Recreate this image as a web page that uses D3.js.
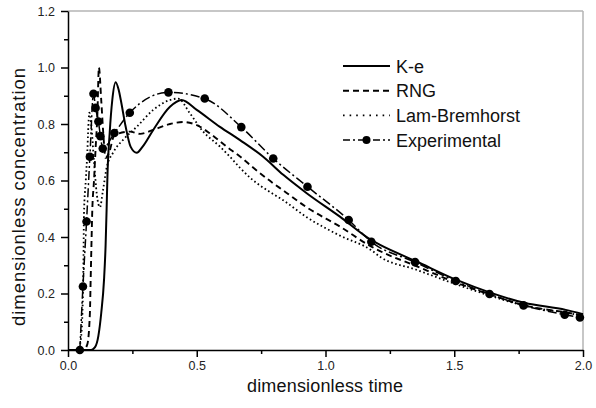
<!DOCTYPE html>
<html>
<head>
<meta charset="utf-8">
<script src="https://cdn.jsdelivr.net/npm/d3@7"></script>
<style>
  html, body { margin: 0; padding: 0; background: #fff; }
  svg { display: block; font-family: "Liberation Sans", Arial, sans-serif; }
</style>
</head>
<body>
<svg id="chart" width="596" height="408"></svg>
<script>
// Model predictions and measurements: dimensionless concentration vs dimensionless time
const keX  = [0, 0.09, 0.105, 0.118, 0.129, 0.140, 0.146, 0.150, 0.153, 0.162, 0.172, 0.185, 0.197, 0.205, 0.224, 0.243, 0.267, 0.290, 0.331, 0.396, 0.441, 0.50, 0.59, 0.668, 0.758, 0.836, 0.927, 1.056, 1.18, 1.212, 1.35, 1.509, 1.64, 1.772, 1.933, 2.0];
const keY  = [0, 0, 0.01, 0.05, 0.13, 0.25, 0.37, 0.50, 0.61, 0.77, 0.885, 0.948, 0.92, 0.885, 0.79, 0.72, 0.698, 0.72, 0.779, 0.861, 0.885, 0.85, 0.79, 0.743, 0.684, 0.62, 0.555, 0.472, 0.388, 0.372, 0.315, 0.248, 0.203, 0.167, 0.142, 0.127];

const rngX = [0, 0.06, 0.075, 0.085, 0.088, 0.091, 0.094, 0.101, 0.107, 0.114, 0.120, 0.129, 0.137, 0.146, 0.16, 0.18, 0.241, 0.28, 0.331, 0.396, 0.448, 0.50, 0.551, 0.616, 0.668, 0.72, 0.797, 0.836, 0.927, 1.056, 1.18, 1.212, 1.35, 1.509, 1.64, 1.772, 1.933, 2.0];
const rngY = [0, 0, 0.02, 0.13, 0.25, 0.37, 0.485, 0.60, 0.71, 0.83, 1.0, 0.885, 0.767, 0.68, 0.70, 0.76, 0.773, 0.765, 0.779, 0.80, 0.807, 0.796, 0.767, 0.72, 0.685, 0.645, 0.59, 0.565, 0.505, 0.437, 0.365, 0.35, 0.298, 0.238, 0.196, 0.158, 0.133, 0.122];

const lamX = [0, 0.04, 0.05, 0.056, 0.06, 0.062, 0.069, 0.075, 0.078, 0.083, 0.09, 0.10, 0.112, 0.124, 0.135, 0.150, 0.176, 0.215, 0.267, 0.331, 0.396, 0.428, 0.474, 0.525, 0.59, 0.629, 0.668, 0.707, 0.797, 0.836, 0.927, 1.056, 1.18, 1.212, 1.35, 1.509, 1.64, 1.772, 1.933, 2.0];
const lamY = [0, 0, 0.04, 0.13, 0.31, 0.48, 0.60, 0.70, 0.77, 0.84, 0.80, 0.68, 0.55, 0.505, 0.56, 0.645, 0.70, 0.745, 0.79, 0.85, 0.885, 0.89, 0.837, 0.773, 0.72, 0.684, 0.645, 0.61, 0.552, 0.53, 0.47, 0.405, 0.352, 0.33, 0.285, 0.232, 0.192, 0.157, 0.132, 0.122];

const expX = [0.046, 0.058, 0.072, 0.085, 0.099, 0.107, 0.118, 0.126, 0.135, 0.180, 0.240, 0.390, 0.531, 0.673, 0.797, 0.930, 1.090, 1.178, 1.348, 1.506, 1.637, 1.769, 1.929, 1.988];
const expY = [0, 0.225, 0.455, 0.684, 0.907, 0.857, 0.809, 0.757, 0.713, 0.768, 0.84, 0.912, 0.89, 0.789, 0.678, 0.578, 0.460, 0.383, 0.311, 0.244, 0.198, 0.158, 0.125, 0.115];

const seriesNames = ["K-e", "RNG", "Lam-Bremhorst", "Experimental"];
const xTicks = [0, 0.5, 1.0, 1.5, 2.0];
const yTicks = [0, 0.2, 0.4, 0.6, 0.8, 1.0, 1.2];

const svg = d3.select("#chart");
const plotLeft = 68, plotRight = 583, plotTop = 11, plotBottom = 350;

const x = d3.scaleLinear().domain([0, 2]).range([plotLeft, plotRight]);
const y = d3.scaleLinear().domain([0, 1.2]).range([plotBottom, plotTop]);

// light frame on top and right
svg.append("line").attr("x1", plotLeft).attr("x2", plotRight).attr("y1", plotTop).attr("y2", plotTop)
  .attr("stroke", "#b4b4b4").attr("stroke-width", 1.5);
svg.append("line").attr("x1", plotRight).attr("x2", plotRight).attr("y1", plotTop).attr("y2", plotBottom)
  .attr("stroke", "#b4b4b4").attr("stroke-width", 1.5);

// minor ticks
svg.append("g").attr("transform", `translate(0,${plotBottom})`)
  .call(d3.axisBottom(x).tickValues(d3.range(0.25, 2, 0.5)).tickSize(4).tickFormat(""))
  .call(g => g.select(".domain").remove());
svg.append("g").attr("transform", `translate(${plotLeft},0)`)
  .call(d3.axisLeft(y).tickValues(d3.range(0.1, 1.2, 0.2)).tickSize(4).tickFormat(""))
  .call(g => g.select(".domain").remove());

// major axes
svg.append("g").attr("transform", `translate(0,${plotBottom})`)
  .call(d3.axisBottom(x).tickValues(xTicks).tickSize(7).tickSizeOuter(0).tickPadding(4).tickFormat(d3.format(".1f")));
svg.append("g").attr("transform", `translate(${plotLeft},0)`)
  .call(d3.axisLeft(y).tickValues(yTicks).tickSize(7).tickSizeOuter(0).tickPadding(6).tickFormat(d3.format(".1f")));

svg.selectAll(".tick line, .domain").attr("stroke", "#000").attr("stroke-width", 1.5);
svg.selectAll(".tick text").attr("font-size", 12.5).attr("fill", "#222")
  .attr("font-family", "Liberation Sans, Arial, sans-serif");

// axis titles
svg.append("text").attr("x", 325).attr("y", 392).attr("text-anchor", "middle")
  .attr("font-size", 18).attr("fill", "#111").attr("textLength", 156)
  .text("dimensionless time");
svg.append("text").attr("transform", "translate(25,197) rotate(-90)").attr("text-anchor", "middle")
  .attr("font-size", 18.5).attr("fill", "#111").attr("textLength", 258)
  .text("dimensionless concentration");

const line = d3.line().x(d => x(d[0])).y(d => y(d[1])).curve(d3.curveMonotoneX);
const styles = [
  { dash: null, width: 2 },
  { dash: "6,4", width: 1.9 },
  { dash: "1.6,2.6", width: 1.8 },
  { dash: "9,3,2,3", width: 1.5 }
];
const data = [
  d3.zip(keX, keY),
  d3.zip(rngX, rngY),
  d3.zip(lamX, lamY),
  d3.zip(expX, expY)
];

const plot = svg.append("g");
data.forEach((d, i) => {
  plot.append("path").datum(d).attr("d", line)
    .attr("fill", "none").attr("stroke", "#000")
    .attr("stroke-width", styles[i].width)
    .attr("stroke-dasharray", styles[i].dash);
});
plot.selectAll("circle.exp").data(data[3]).join("circle").attr("class", "exp")
  .attr("cx", d => x(d[0])).attr("cy", d => y(d[1])).attr("r", 4.3).attr("fill", "#000");

// legend
const legend = svg.append("g");
seriesNames.forEach((name, i) => {
  const ly = 66 + i * 24.7;
  legend.append("line").attr("x1", 343).attr("x2", 390).attr("y1", ly).attr("y2", ly)
    .attr("stroke", "#000").attr("stroke-width", styles[i].width)
    .attr("stroke-dasharray", i === 2 ? "1.6,5" : (i === 3 ? "7,3,2,3" : styles[i].dash));
  if (i === 3) legend.append("circle").attr("cx", 366.5).attr("cy", ly).attr("r", 4).attr("fill", "#000");
  legend.append("text").attr("x", 396).attr("y", ly + 6.5).attr("font-size", 18).attr("fill", "#111").text(name);
});
</script>
</body>
</html>
